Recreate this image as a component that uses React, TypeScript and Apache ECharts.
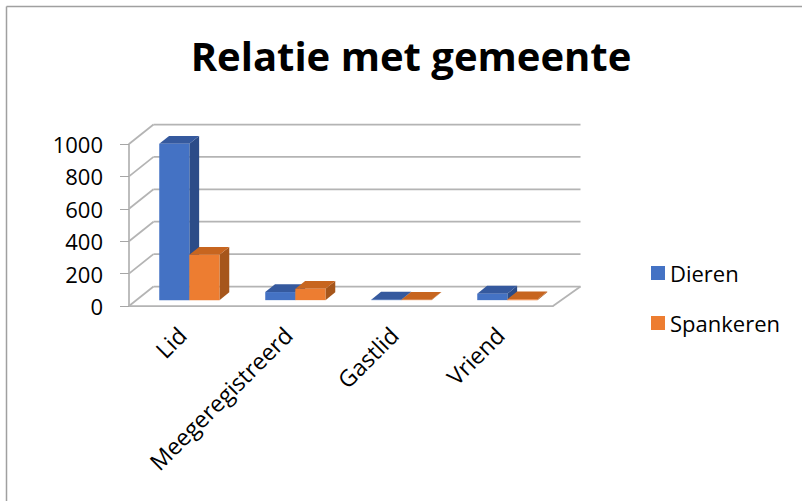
import React, { useEffect, useRef } from "react";
import * as echarts from "echarts";

const categories = ["Lid", "Meegeregistreerd", "Gastlid", "Vriend"];
const dieren = [965, 50, 3, 40];
const spankeren = [280, 70, 2, 5];
const gridValues = [0, 200, 400, 600, 800, 1000];
const seriesNames = ["Dieren", "Spankeren"];

const FONT = "'Open Sans', Lato, sans-serif";
const DX = 24.5;
const DY = -19.5;
const F0 = 0.3;
const F1 = 0.7;

const faces = [
  { front: "#4472C4", top: "#35599e", side: "#2c4c88" },
  { front: "#ED7D31", top: "#c7651f", side: "#a6561b" },
];

function barRenderer(s: number) {
  return (params: any, api: any) => {
    const idx = api.value(0);
    const val = api.value(1);
    const base = api.coord([idx, 0]);
    const top = api.coord([idx, val]);
    const bw = api.size([1, 0])[0] * 0.284;
    const x0 = base[0] + F0 * DX + (s - 1) * bw;
    const x1 = x0 + bw;
    const yb = base[1] + F0 * DY;
    const yt = top[1] + F0 * DY;
    const ddx = (F1 - F0) * DX;
    const ddy = (F1 - F0) * DY;
    const c = faces[s];
    return {
      type: "group",
      children: [
        {
          type: "polygon",
          shape: { points: [[x1, yb], [x1 + ddx, yb + ddy], [x1 + ddx, yt + ddy], [x1, yt]] },
          style: { fill: c.side },
        },
        {
          type: "polygon",
          shape: { points: [[x0, yt], [x1, yt], [x1 + ddx, yt + ddy], [x0 + ddx, yt + ddy]] },
          style: { fill: c.top },
        },
        {
          type: "rect",
          shape: { x: x0, y: yt, width: bw, height: yb - yt },
          style: { fill: c.front },
        },
      ],
    };
  };
}

function wallRenderer(params: any, api: any) {
  const v = api.value(1);
  const cs = params.coordSys;
  const gx = cs.x;
  const gw = cs.width;
  const y = api.coord([0, v])[1];
  const st = { stroke: "#b4b4b4", lineWidth: 1.75 };
  const children: any[] = [
    { type: "line", shape: { x1: gx, y1: y, x2: gx + DX, y2: y + DY }, style: st },
    { type: "line", shape: { x1: gx + DX, y1: y + DY, x2: gx + gw + DX + 3, y2: y + DY }, style: st },
  ];
  if (v === 0) {
    children.push({
      type: "line",
      shape: { x1: gx + gw, y1: y, x2: gx + gw + DX + 3, y2: y + DY },
      style: st,
    });
  }
  return { type: "group", children };
}

export default function App() {
  const ref = useRef<HTMLDivElement>(null);
  useEffect(() => {
    document.body.style.margin = "0";
    const chart = echarts.init(ref.current!, null, { renderer: "svg" });
    chart.setOption({
      animation: false,
      backgroundColor: "#ffffff",
      title: {
        text: "Relatie met gemeente",
        left: 406,
        top: 30,
        textAlign: "center",
        textStyle: { fontFamily: FONT, fontWeight: "bold", fontSize: 40, color: "#000" },
      },
      legend: {
        data: seriesNames.map((n, i) => ({ name: n, itemStyle: { color: faces[i].front } })),
        orient: "vertical",
        left: 651,
        top: 262,
        padding: 0,
        icon: "rect",
        itemWidth: 14,
        itemHeight: 14,
        itemGap: 28,
        textStyle: { fontFamily: FONT, fontSize: 22, color: "#000" },
      },
      grid: { left: 129, right: 249, top: 144, bottom: 195 },
      xAxis: {
        type: "category",
        data: categories,
        axisLine: { lineStyle: { color: "#b4b4b4", width: 1.75 } },
        axisTick: { length: 9, lineStyle: { color: "#a6a6a6" } },
        axisLabel: {
          rotate: 45,
          margin: 25,
          fontFamily: FONT,
          fontSize: 23,
          color: "#000",
          interval: 0,
        },
        splitLine: { show: false },
      },
      yAxis: {
        type: "value",
        min: 0,
        max: 1000,
        interval: 200,
        axisLine: { show: true, lineStyle: { color: "#b4b4b4", width: 1.75 } },
        axisTick: { show: true, length: 9, lineStyle: { color: "#a6a6a6" } },
        axisLabel: {
          margin: 26,
          fontFamily: FONT,
          fontSize: 22,
          color: "#000",
          formatter: (v: number) => String(v),
        },
        splitLine: { show: false },
      },
      graphic: [
        { type: "line", shape: { x1: 6.5, y1: 6.5, x2: 802, y2: 6.5 }, style: { stroke: "#a0a0a0", lineWidth: 1.5 } },
        { type: "line", shape: { x1: 6.5, y1: 6.5, x2: 6.5, y2: 501 }, style: { stroke: "#a0a0a0", lineWidth: 1.5 } },
      ],
      series: [
        {
          type: "custom",
          name: "walls",
          z: 1,
          silent: true,
          data: gridValues.map((v) => [0, v]),
          renderItem: wallRenderer,
        },
        {
          type: "custom",
          name: seriesNames[0],
          z: 2,
          itemStyle: { color: faces[0].front },
          data: dieren.map((v, i) => [i, v]),
          encode: { x: 0, y: 1 },
          renderItem: barRenderer(0),
        },
        {
          type: "custom",
          name: seriesNames[1],
          z: 3,
          itemStyle: { color: faces[1].front },
          data: spankeren.map((v, i) => [i, v]),
          encode: { x: 0, y: 1 },
          renderItem: barRenderer(1),
        },
      ],
    });
    return () => chart.dispose();
  }, []);
  return <div ref={ref} style={{ width: 802, height: 501 }} />;
}
